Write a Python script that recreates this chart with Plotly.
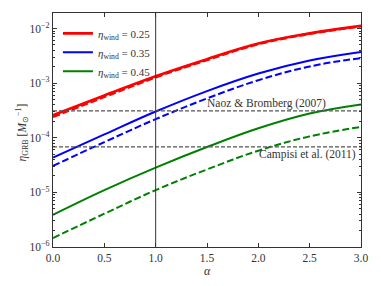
import numpy as np
import plotly.graph_objects as go

alpha = [0.0, 0.5, 1.0, 1.5, 2.0, 2.5, 3.0]
eta_025_solid = [2.59e-4, 5.95e-4, 1.34e-3, 2.75e-3, 5.30e-3, 8.15e-3, 1.12e-2]
eta_025_dashed = [2.42e-4, 5.60e-4, 1.28e-3, 2.66e-3, 5.18e-3, 8.00e-3, 1.10e-2]
eta_035_solid = [4.33e-5, 1.15e-4, 3.02e-4, 7.15e-4, 1.50e-3, 2.60e-3, 3.72e-3]
eta_035_dashed = [3.05e-5, 8.32e-5, 2.19e-4, 5.25e-4, 1.13e-3, 2.02e-3, 2.88e-3]
eta_045_solid = [3.89e-6, 1.10e-5, 2.84e-5, 6.76e-5, 1.49e-4, 2.78e-4, 4.07e-4]
eta_045_dashed = [1.46e-6, 4.07e-6, 1.10e-5, 2.63e-5, 5.80e-5, 1.06e-4, 1.58e-4]

naoz_value = 3.1e-4
campisi_value = 6.8e-5
alpha_marker = 1.0

x_ticks = [0.0, 0.5, 1.0, 1.5, 2.0, 2.5, 3.0]
x_ticklabels = ["0.0", "0.5", "1.0", "1.5", "2.0", "2.5", "3.0"]
y_ticks = [1e-6, 1e-5, 1e-4, 1e-3, 1e-2]
y_ticklabels = ["10<sup>−6</sup>", "10<sup>−5</sup>", "10<sup>−4</sup>", "10<sup>−3</sup>", "10<sup>−2</sup>"]

FONT = "Liberation Serif"
TXT = "#333333"
AX = "#333333"

fig = go.Figure()

series = [
    ("0.25", "#ff0000", eta_025_solid, eta_025_dashed, 2.6),
    ("0.35", "#0000ff", eta_035_solid, eta_035_dashed, 2.0),
    ("0.45", "#008000", eta_045_solid, eta_045_dashed, 2.0),
]
for label, color, ys, yd, w in series:
    fig.add_trace(go.Scatter(
        x=alpha, y=ys, mode="lines",
        line=dict(color=color, width=w, shape="spline", smoothing=1.1),
        name="<i>η</i><sub>wind</sub> = " + label, showlegend=True))
    fig.add_trace(go.Scatter(
        x=alpha, y=yd, mode="lines",
        line=dict(color=color, width=w, shape="spline", smoothing=1.1, dash="7px,3px"),
        showlegend=False))

for val in (naoz_value, campisi_value):
    fig.add_trace(go.Scatter(
        x=[x_ticks[0], x_ticks[-1]], y=[val, val], mode="lines",
        line=dict(color="#555555", width=1.2, dash="4px,2px"), showlegend=False))

fig.add_vline(x=alpha_marker, line=dict(color="#333333", width=1))

fig.add_annotation(x=2.08, y=np.log10(naoz_value), text="Naoz &amp; Bromberg (2007)",
                   showarrow=False, xanchor="center", yanchor="bottom", yshift=-1,
                   font=dict(family=FONT, size=11.5, color=TXT))
fig.add_annotation(x=2.48, y=np.log10(campisi_value), text="Campisi et al. (2011)",
                   showarrow=False, xanchor="center", yanchor="top", yshift=1,
                   font=dict(family=FONT, size=11.5, color=TXT))

# axis titles
fig.add_annotation(xref="paper", yref="paper", x=0.5, y=-0.103, text="<i>α</i>",
                   showarrow=False, xanchor="center", yanchor="middle",
                   font=dict(family=FONT, size=12, color=TXT))
fig.add_annotation(xref="paper", yref="paper", x=-0.1, y=0.49,
                   text="<i>η</i><sub>GRB</sub> [<i>M</i><sub>⊙</sub><sup>−1</sup>]",
                   textangle=-90, showarrow=False, xanchor="center", yanchor="middle",
                   font=dict(family=FONT, size=11.5, color=TXT))

fig.update_xaxes(
    range=[0, 3], tickvals=x_ticks, ticktext=x_ticklabels,
    ticks="inside", ticklen=4, tickwidth=1, tickcolor=AX,
    showline=True, linecolor=AX, linewidth=1.3, mirror="ticks",
    showgrid=False, zeroline=False, automargin=False,
    tickfont=dict(family=FONT, size=11.5, color=TXT),
)
fig.update_yaxes(
    type="log", range=[-6, -1.716], tickvals=y_ticks, ticktext=y_ticklabels,
    ticks="inside", ticklen=4, tickwidth=1, tickcolor=AX,
    minor=dict(ticks="inside", ticklen=2, tickcolor=AX, dtick="D1", showgrid=False),
    showline=True, linecolor=AX, linewidth=1.3, mirror="ticks",
    showgrid=False, zeroline=False, automargin=False,
    tickfont=dict(family=FONT, size=11.5, color=TXT),
)

# page body has an 8px default margin; figure sized to fit the 381x286 window
fig.update_layout(
    width=365, height=270,
    margin=dict(l=45, r=12, t=5, b=31, autoexpand=False),
    paper_bgcolor="white", plot_bgcolor="white",
    showlegend=True,
    legend=dict(x=0.016, y=0.975, xanchor="left", yanchor="top",
                bgcolor="rgba(0,0,0,0)", borderwidth=0,
                font=dict(family=FONT, size=11, color=TXT),
                tracegroupgap=0, itemwidth=30),
)

fig.write_html("out.html")
